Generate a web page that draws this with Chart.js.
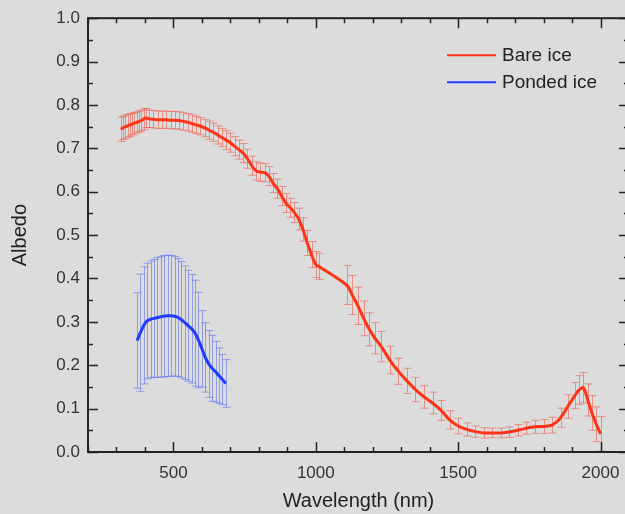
<!DOCTYPE html>
<html>
<head>
<meta charset="utf-8">
<script src="https://cdn.jsdelivr.net/npm/chart.js@4.4.1/dist/chart.umd.min.js"></script>
<style>
  html, body { margin: 0; padding: 0; background: #dcdcdc; overflow: hidden; }
  #wrap { width: 640px; height: 514px; }
</style>
</head>
<body>
<div id="wrap"><canvas id="albedoChart" width="640" height="514"></canvas></div>
<script>
// DATA
const bareWavelength = [
  315, 323, 331, 339, 347, 355, 363, 371, 379, 387, 395, 403,
  415, 430, 445, 460, 475, 490, 505, 520, 535, 550, 565, 580, 595, 610,
  625, 640, 655, 670, 685, 700, 715, 730, 745, 760, 775, 790, 805, 820,
  835, 850, 865, 880, 895, 910, 925, 940, 955, 970, 985, 1000, 1010,
  1108, 1128, 1148, 1168, 1188, 1208, 1230, 1260, 1290, 1320, 1350, 1380,
  1410, 1440, 1470, 1500, 1530, 1560, 1590, 1620, 1650, 1680, 1710, 1740,
  1770, 1800, 1830, 1860, 1885, 1910, 1925, 1940, 1955, 1970, 1985, 2000
];
const bareAlbedo = [
  0.744, 0.747, 0.750, 0.752, 0.754, 0.756, 0.758, 0.760, 0.762, 0.764, 0.767, 0.770,
  0.768, 0.767, 0.766, 0.766, 0.766, 0.765, 0.765, 0.764, 0.762, 0.760, 0.757, 0.754, 0.751, 0.747,
  0.742, 0.737, 0.731, 0.725, 0.719, 0.713, 0.705, 0.697, 0.689, 0.676, 0.660, 0.648, 0.645, 0.644,
  0.636, 0.620, 0.607, 0.590, 0.574, 0.563, 0.552, 0.537, 0.513, 0.482, 0.455, 0.432, 0.428,
  0.385, 0.362, 0.337, 0.308, 0.283, 0.262, 0.243, 0.212, 0.186, 0.164, 0.144, 0.127,
  0.113, 0.096, 0.074, 0.060, 0.052, 0.047, 0.044, 0.044, 0.044, 0.046, 0.050, 0.055,
  0.058, 0.059, 0.062, 0.079, 0.105, 0.130, 0.143, 0.148, 0.120, 0.090, 0.064, 0.042
];
const bareError = [
  0.028, 0.027, 0.027, 0.026, 0.026, 0.025, 0.025, 0.024, 0.024, 0.024, 0.024, 0.022,
  0.020, 0.020, 0.020, 0.020, 0.020, 0.020, 0.020, 0.020, 0.020, 0.020, 0.020, 0.020, 0.020, 0.020,
  0.021, 0.021, 0.021, 0.021, 0.022, 0.022, 0.022, 0.022, 0.022, 0.022, 0.022, 0.021, 0.021, 0.021,
  0.022, 0.022, 0.022, 0.022, 0.022, 0.022, 0.023, 0.025, 0.027, 0.029, 0.030, 0.030, 0.030,
  0.045, 0.045, 0.043, 0.040, 0.038, 0.036, 0.035, 0.032, 0.030, 0.029, 0.028, 0.026,
  0.025, 0.023, 0.021, 0.018, 0.015, 0.013, 0.012, 0.011, 0.011, 0.012, 0.013, 0.014,
  0.015, 0.016, 0.018, 0.022, 0.027, 0.030, 0.033, 0.035, 0.037, 0.040, 0.040, 0.040
];

const pondWavelength = [
  372, 384, 396, 408, 420, 432, 444, 456, 468, 480, 492, 504, 516, 528,
  540, 552, 564, 576, 588, 600, 612, 624, 636, 648, 660, 672, 684
];
const pondAlbedo = [
  0.257, 0.275, 0.292, 0.302, 0.306, 0.308, 0.310, 0.312, 0.313, 0.314, 0.314, 0.313, 0.310, 0.305,
  0.298, 0.291, 0.284, 0.274, 0.258, 0.238, 0.218, 0.203, 0.193, 0.185, 0.176, 0.167, 0.158
];
const pondError = [
  0.110, 0.135, 0.135, 0.133, 0.134, 0.136, 0.138, 0.139, 0.140, 0.140, 0.139, 0.138, 0.136, 0.134,
  0.131, 0.128, 0.125, 0.122, 0.110, 0.088, 0.080, 0.077, 0.076, 0.070, 0.064, 0.058, 0.055
];

const xTickLabels = [500, 1000, 1500, 2000];
const seriesNames = ["Bare ice", "Ponded ice"];

const canvas = document.getElementById("albedoChart");
const ctx = canvas.getContext("2d");

function toPoints(xs, ys) {
  return xs.map((x, i) => ({ x: x, y: ys[i] }));
}

// ERROR BARS (drawn under the lines)
const errorBars = {
  id: "errorBars",
  beforeDatasetsDraw(chart) {
    const { ctx, chartArea, scales } = chart;
    ctx.save();
    ctx.beginPath();
    ctx.rect(chartArea.left, chartArea.top, chartArea.right - chartArea.left, chartArea.bottom - chartArea.top);
    ctx.clip();
    chart.data.datasets.forEach((ds) => {
      ctx.strokeStyle = ds.errorColor;
      ctx.lineWidth = 1;
      ds.data.forEach((p, i) => {
        const e = ds.errors[i];
        const x = Math.round(scales.x.getPixelForValue(p.x)) + 0.5;
        const top = scales.y.getPixelForValue(p.y + e);
        const bot = scales.y.getPixelForValue(p.y - e);
        ctx.beginPath();
        ctx.moveTo(x, top);
        ctx.lineTo(x, bot);
        ctx.moveTo(x - 4, top);
        ctx.lineTo(x + 4, top);
        ctx.moveTo(x - 4, bot);
        ctx.lineTo(x + 4, bot);
        ctx.stroke();
      });
    });
    ctx.restore();
  },
};

// FRAME AND INWARD TICKS
const frameTicks = {
  id: "frameTicks",
  afterDatasetsDraw(chart) {
    const { ctx, chartArea, scales } = chart;
    const { left, right, top, bottom } = chartArea;
    ctx.save();
    ctx.strokeStyle = "#222";
    ctx.lineWidth = 2;
    ctx.strokeRect(left, top, right - left, bottom - top);
    ctx.lineWidth = 1.5;
    ctx.beginPath();
    for (let v = 200; v <= 2100; v += 100) {
      const x = Math.round(scales.x.getPixelForValue(v)) + 0.5;
      const len = v % 500 === 0 ? 10 : 5;
      ctx.moveTo(x, bottom);
      ctx.lineTo(x, bottom - len);
      ctx.moveTo(x, top);
      ctx.lineTo(x, top + len);
    }
    for (let k = 0; k <= 20; k++) {
      const y = Math.round(scales.y.getPixelForValue(k * 0.05)) + 0.5;
      const len = k % 2 === 0 ? 10 : 5;
      ctx.moveTo(left, y);
      ctx.lineTo(left + len, y);
      ctx.moveTo(right, y);
      ctx.lineTo(right - len, y);
    }
    ctx.stroke();
    ctx.restore();
  },
};

// LEGEND
const lineLegend = {
  id: "lineLegend",
  afterDraw(chart) {
    const { ctx, chartArea } = chart;
    const x0 = chartArea.right - 182;
    let y = chartArea.top + 37;
    ctx.save();
    ctx.font = "19px 'Liberation Sans', Arial, sans-serif";
    ctx.textBaseline = "middle";
    ctx.fillStyle = "#222";
    chart.data.datasets.forEach((ds) => {
      ctx.strokeStyle = ds.borderColor;
      ctx.lineWidth = 2;
      ctx.beginPath();
      ctx.moveTo(x0, y);
      ctx.lineTo(x0 + 49, y);
      ctx.stroke();
      ctx.fillText(ds.label, x0 + 55, y + 1);
      y += 27;
    });
    ctx.restore();
  },
};

const bgColor = {
  id: "bgColor",
  beforeDraw(chart) {
    const c = chart.ctx;
    c.save();
    c.fillStyle = "#dcdcdc";
    c.fillRect(0, 0, chart.width, chart.height);
    c.restore();
  },
};

const myChart = new Chart(ctx, {
  type: "line",
  data: {
    datasets: [
      {
        label: seriesNames[0],
        data: toPoints(bareWavelength, bareAlbedo),
        errors: bareError,
        errorColor: "rgba(236, 100, 85, 0.65)",
        borderColor: "#ff3318",
        borderWidth: 3,
        pointRadius: 0,
        tension: 0.3,
        fill: false,
      },
      {
        label: seriesNames[1],
        data: toPoints(pondWavelength, pondAlbedo),
        errors: pondError,
        errorColor: "rgba(100, 120, 235, 0.65)",
        borderColor: "#1e3cff",
        borderWidth: 3,
        pointRadius: 0,
        tension: 0.3,
        fill: false,
      },
    ],
  },
  options: {
    responsive: false,
    animation: false,
    devicePixelRatio: 1,
    layout: { padding: { top: 16, right: 11, left: 0, bottom: 0 } },
    plugins: {
      legend: { display: false },
      tooltip: { enabled: false },
    },
    scales: {
      x: {
        type: "linear",
        min: 200,
        max: 2100,
        grid: { display: false, drawTicks: false },
        border: { display: false },
        afterBuildTicks: (scale) => {
          scale.ticks = xTickLabels.map((v) => ({ value: v }));
        },
        afterFit: (scale) => {
          scale.height = 62;
        },
        ticks: {
          padding: 11,
          maxRotation: 0,
          color: "#333",
          font: { family: "'Liberation Sans', Arial, sans-serif", size: 17 },
          callback: (v) => String(v),
        },
        title: {
          display: true,
          text: "Wavelength (nm)",
          color: "#222",
          padding: 1,
          font: { family: "'Liberation Sans', Arial, sans-serif", size: 20 },
        },
      },
      y: {
        min: 0,
        max: 1,
        grid: { display: false, drawTicks: false },
        border: { display: false },
        afterFit: (scale) => {
          scale.width = 88;
        },
        ticks: {
          stepSize: 0.1,
          padding: 8,
          color: "#333",
          font: { family: "'Liberation Sans', Arial, sans-serif", size: 17 },
          callback: (v) => v.toFixed(1),
        },
        title: {
          display: true,
          text: "Albedo",
          color: "#222",
          padding: 8,
          font: { family: "'Liberation Sans', Arial, sans-serif", size: 20 },
        },
      },
    },
  },
  plugins: [bgColor, errorBars, frameTicks, lineLegend],
});
</script>
</body>
</html>
